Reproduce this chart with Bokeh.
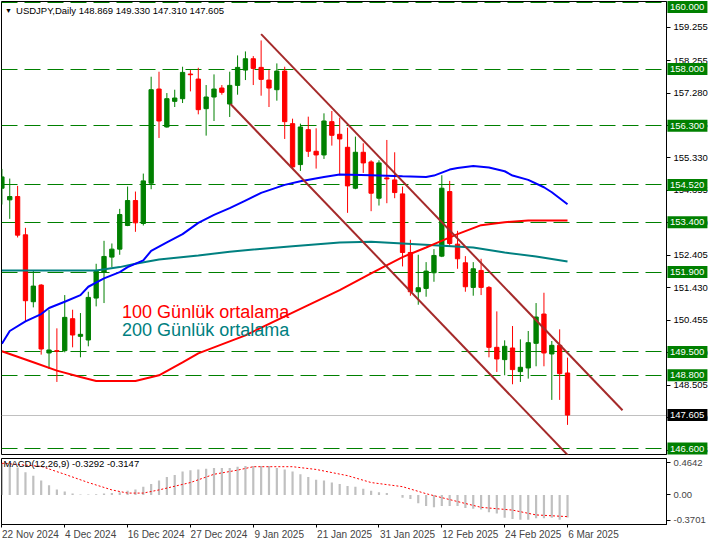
from bokeh.plotting import figure
from bokeh.layouts import column
from bokeh.models import Range1d, FixedTicker, NumeralTickFormatter, Label, LinearAxis
from bokeh.core.properties import value
from bokeh.embed import file_html
from bokeh.resources import INLINE

# ---------------- data ----------------
symbol_title = "USDJPY,Daily  148.869 149.330 147.310 147.605"
macd_title = "MACD(12,26,9) -0.3292 -0.3147"

date_tick_idx = [0, 8, 16, 24, 32, 40, 48, 56, 64, 72]
date_labels = ["22 Nov 2024", "4 Dec 2024", "16 Dec 2024", "27 Dec 2024", "9 Jan 2025",
               "21 Jan 2025", "31 Jan 2025", "12 Feb 2025", "24 Feb 2025", "6 Mar 2025"]

opens = [154.42, 154.07, 154.17, 153.02, 151.01, 151.51, 149.47, 149.54, 149.54, 150.50,
         149.97, 149.86, 151.12, 151.90, 152.35, 152.59, 153.30, 154.05, 153.36, 154.57,
         157.40, 156.26, 157.03, 157.11, 157.85, 157.70, 156.81, 157.16, 157.43, 156.95,
         157.51, 157.97, 158.31, 158.05, 157.67, 157.38, 157.94, 156.36, 155.13, 156.18,
         155.53, 155.42, 156.42, 156.04, 155.65, 154.42, 155.50, 155.21, 154.12, 154.73,
         154.67, 154.25, 152.49, 151.31, 151.41, 151.88, 152.38, 154.32, 152.74, 152.18,
         151.44, 151.95, 151.44, 149.64, 149.27, 149.62, 148.91, 149.02, 149.76, 150.64,
         149.44, 149.70, 148.869]
highs = [155.00, 154.71, 154.49, 153.23, 151.95, 151.54, 150.77, 150.21, 151.21, 150.77,
         150.67, 151.31, 152.15, 152.84, 152.76, 153.80, 154.47, 154.32, 154.86, 157.77,
         157.92, 157.28, 157.38, 158.07, 157.97, 158.04, 157.52, 157.84, 157.52, 157.92,
         158.41, 158.53, 158.39, 158.86, 157.97, 158.17, 158.07, 156.51, 156.36, 156.57,
         156.22, 156.67, 156.74, 156.54, 156.24, 155.97, 155.77, 155.26, 155.26, 155.87,
         155.50, 154.47, 152.87, 152.42, 152.20, 152.59, 154.81, 154.64, 153.14, 152.38,
         152.20, 152.30, 151.48, 150.72, 149.85, 150.28, 149.88, 150.13, 150.97, 151.28,
         149.83, 150.18, 149.330]
lows = [153.93, 153.50, 152.94, 150.42, 150.84, 149.42, 148.99, 148.60, 149.49, 149.64,
        149.34, 149.67, 150.87, 150.97, 152.05, 152.42, 153.28, 153.11, 153.30, 154.39,
        155.93, 156.24, 156.86, 156.98, 157.33, 156.64, 156.00, 156.44, 157.23, 156.56,
        157.23, 157.67, 157.52, 157.20, 156.86, 157.05, 155.90, 155.01, 154.94, 155.36,
        155.01, 155.30, 155.70, 154.81, 153.68, 154.39, 154.88, 153.73, 153.90, 153.97,
        154.12, 152.07, 151.19, 150.92, 151.16, 151.61, 152.35, 152.69, 152.00, 151.31,
        151.19, 151.21, 149.34, 148.90, 148.80, 148.53, 148.60, 148.70, 149.07, 149.07,
        148.06, 148.06, 147.310]
closes = [154.76, 154.17, 153.01, 151.04, 151.48, 149.59, 149.56, 149.52, 150.54, 150.01,
          150.03, 151.14, 151.93, 152.37, 152.59, 153.63, 154.05, 153.38, 154.64, 157.38,
          156.44, 157.11, 157.13, 157.90, 157.83, 156.78, 157.16, 157.40, 157.30, 157.51,
          158.05, 158.31, 158.02, 157.69, 157.43, 157.94, 156.42, 155.06, 156.26, 155.53,
          155.42, 156.44, 156.01, 155.90, 154.49, 155.50, 155.18, 154.27, 155.18, 154.70,
          154.29, 152.49, 151.31, 151.43, 151.93, 152.40, 154.42, 152.76, 152.30, 151.46,
          152.00, 151.44, 149.64, 149.29, 149.67, 148.97, 149.04, 149.78, 150.55, 149.47,
          149.70, 148.85, 147.605]

# moving averages (bar index, price)
ma50_idx = [0, 1, 3, 5, 6, 8, 10, 11, 13, 15, 16, 18, 19, 21, 23, 25, 27, 29, 31, 33, 36, 38,
            41, 43, 47, 51, 54, 55, 57, 58, 60, 62, 64, 65, 67, 69, 70, 72]
ma50_val = [149.75, 150.13, 150.42, 150.64, 150.82, 151.01, 151.21, 151.46, 151.71, 151.90,
            152.05, 152.25, 152.54, 152.79, 153.04, 153.38, 153.62, 153.82, 154.05, 154.28,
            154.52, 154.63, 154.76, 154.83, 154.81, 154.78, 154.76, 154.80, 154.98, 155.03,
            155.09, 155.04, 154.93, 154.80, 154.67, 154.45, 154.30, 153.94]
ma100_idx = [0, 4, 7, 10, 12, 17, 20, 23, 25, 28, 31, 37, 43, 47, 51, 54, 55, 58, 61, 64, 67, 72]
ma100_val = [149.52, 149.19, 148.94, 148.75, 148.63, 148.63, 148.80, 149.19, 149.46, 149.73,
             150.00, 150.68, 151.36, 151.86, 152.35, 152.64, 152.74, 153.04, 153.31, 153.40,
             153.45, 153.45]
ma200_idx = [0, 12, 15, 17, 20, 25, 29, 31, 37, 43, 47, 51, 55, 60, 64, 68, 72]
ma200_val = [151.95, 151.95, 152.05, 152.15, 152.28, 152.40, 152.51, 152.56, 152.68, 152.79,
             152.81, 152.76, 152.71, 152.64, 152.49, 152.37, 152.22]

# trend channel (bar index, price)
chan_up_x = [33.0, 79.0]
chan_up_y = [159.05, 147.75]
chan_lo_x = [29.1, 73.5]
chan_lo_y = [156.95, 146.04]

levels = [160.0, 158.0, 156.3, 154.52, 153.4, 151.9, 149.5, 148.8, 146.6]
level_labels = ["160.000", "158.000", "156.300", "154.520", "153.400", "151.900",
                "149.500", "148.800", "146.600"]
last_price = 147.605
last_label = "147.605"

price_ticks = [159.255, 158.255, 157.28, 156.305, 155.33, 154.355, 153.38, 152.405,
               151.43, 150.455, 149.48, 148.505, 147.53, 146.555]

ma100_text = "100 Günlük ortalama"
ma200_text = "200 Günlük ortalama"

# MACD
macd_hist = [0.46, 0.44, 0.40, 0.33, 0.28, 0.21, 0.14, 0.08, 0.05, 0.02,
             0.005, 0.005, 0.01, 0.02, 0.03, 0.04, 0.06, 0.08, 0.12, 0.16,
             0.21, 0.26, 0.29, 0.34, 0.36, 0.37, 0.38, 0.39, 0.39, 0.39,
             0.41, 0.42, 0.42, 0.42, 0.42, 0.39, 0.37, 0.34, 0.30, 0.26,
             0.22, 0.21, 0.18, 0.16, 0.13, 0.12, 0.09, 0.06, 0.04, 0.03,
             0.00, -0.04, -0.06, -0.12, -0.16, -0.18, -0.16, -0.16, -0.16, -0.19,
             -0.20, -0.21, -0.25, -0.27, -0.33, -0.35, -0.36, -0.36, -0.34, -0.34,
             -0.33, -0.36, -0.3292]
sig_idx = [0, 5, 8, 11, 14, 16, 18, 20, 24, 27, 30, 32, 37, 40, 44, 47, 51, 54, 58, 61,
           65, 68, 72]
sig_val = [0.46, 0.415, 0.30, 0.18, 0.073, 0.027, 0.027, 0.073, 0.18, 0.30, 0.36, 0.41,
           0.41, 0.37, 0.28, 0.18, 0.12, 0.018, -0.096, -0.18, -0.22, -0.29, -0.3147]
macd_ticks = [0.4642, 0.0, -0.3701]
macd_tick_labels = ["0.4642", "0.00", "-0.3701"]

# ---------------- styling ----------------
FONT = "Liberation Sans"
W = 710
RB = 42
H1 = 455
BOXW = 40
GREEN = "#008000"
RED = "#FF0000"
X0, X1 = -0.05, 84.6
Y0, Y1 = 146.42, 160.03
PXB = (W - 1 - RB) / (X1 - X0)          # pixels per bar
PXP = (H1 - 2) / (Y1 - Y0)              # pixels per price unit

idx = list(range(len(opens)))
cols = [GREEN if c >= o else RED for o, c in zip(opens, closes)]
tops = [max(o, c) for o, c in zip(opens, closes)]
bots = [min(o, c) for o, c in zip(opens, closes)]

p = figure(width=W, height=H1, x_range=Range1d(X0, X1), y_range=Range1d(Y0, Y1),
           output_backend="svg", toolbar_location=None, x_axis_location=None,
           y_axis_location="right", min_border_left=1, min_border_right=RB,
           min_border_top=1, min_border_bottom=1)
p.grid.visible = False
p.outline_line_color = "black"
p.background_fill_color = "white"
p.border_fill_color = "white"

ax = p.yaxis[0]
ax.ticker = FixedTicker(ticks=price_ticks)
ax.formatter = NumeralTickFormatter(format="0.000")
ax.major_label_text_font = FONT
ax.major_label_text_font_size = "9.5px"
ax.major_label_text_color = "black"
ax.major_tick_out = 4
ax.major_tick_in = 0
ax.minor_tick_line_color = None
ax.major_label_standoff = 3
ax.axis_line_color = "black"

# levels
p.hspan(y=levels, line_color=GREEN, line_width=1, line_dash="16 7")
p.hspan(y=[last_price], line_color="#C0C0C0", line_width=1)

# candles
p.segment(x0=idx, y0=lows, x1=idx, y1=highs, line_color=cols, line_width=1)
p.vbar(x=idx, top=tops, bottom=bots, width=0.55, fill_color=cols, line_color=cols, line_width=1)

# moving averages
p.line(ma200_idx, ma200_val, line_color="#008080", line_width=2)
p.line(ma100_idx, ma100_val, line_color=RED, line_width=2)
p.line(ma50_idx, ma50_val, line_color="#0000FF", line_width=2)

# channel
p.line(chan_up_x, chan_up_y, line_color="#A52A2A", line_width=2)
p.line(chan_lo_x, chan_lo_y, line_color="#A52A2A", line_width=2)

# texts
p.add_layout(Label(x=15.3, y=150.70, text=ma100_text, text_color=RED, text_font=FONT,
                   text_font_size="18px", text_baseline="middle"))
p.add_layout(Label(x=15.3, y=150.17, text=ma200_text, text_color="#008080", text_font=FONT,
                   text_font_size="18px", text_baseline="middle"))
p.add_layout(Label(x=0.4, y=159.77, text="\u25BC", text_color="black", text_font=FONT,
                   text_font_size="7px", text_baseline="middle"))
p.add_layout(Label(x=1.8, y=159.77, text=symbol_title, text_color="black", text_font=FONT,
                   text_font_size="9.5px", text_baseline="middle"))

# price boxes at the right of the axis (drawn on the overlay level, outside the frame)
box_y = [min(v, Y1 + 1 / PXP - 6.5 / PXP) for v in levels] + [last_price]
box_txt = level_labels + [last_label]
box_col = [GREEN] * len(levels) + ["black"]
box_cx = X1 + (1 + BOXW / 2) / PXB
p.rect(x=[box_cx] * len(box_y), y=box_y, width=BOXW, height=12, width_units="screen",
       height_units="screen", fill_color=box_col, line_color=None, level="overlay")
p.text(x=[X1 + 3.5 / PXB] * len(box_y), y=box_y, text=box_txt, text_color="white",
       text_font=value(FONT), text_font_size="9.5px", text_baseline="middle",
       text_align="left", level="overlay")

# ---------------- MACD panel ----------------
m = figure(width=W, height=87, x_range=p.x_range, y_range=Range1d(-0.429, 0.529),
           output_backend="svg", toolbar_location=None, x_axis_location=None,
           y_axis_location="right", min_border_left=1, min_border_right=RB,
           min_border_top=3, min_border_bottom=0)
m.grid.visible = False
m.outline_line_color = "black"
m.background_fill_color = "white"
m.border_fill_color = "white"

may = m.yaxis[0]
may.ticker = FixedTicker(ticks=macd_ticks)
may.major_label_overrides = {t: s for t, s in zip(macd_ticks, macd_tick_labels)}
may.major_label_text_font = FONT
may.major_label_text_font_size = "9.5px"
may.major_tick_out = 4
may.major_tick_in = 0
may.minor_tick_line_color = None
may.major_label_standoff = 3
may.axis_line_color = "black"

# date ticks (marks only)
tick_axis = LinearAxis(ticker=FixedTicker(ticks=date_tick_idx),
                       major_label_overrides={t: "" for t in date_tick_idx},
                       major_label_text_font_size="1px", major_label_standoff=0,
                       major_tick_out=3, major_tick_in=0, minor_tick_out=0,
                       minor_tick_line_color=None, axis_line_color="black")
m.add_layout(tick_axis, "below")
# date labels, left-aligned at their tick (centre shifted by half the label width)
label_pos = [round(t + len(s) * 2.6 / PXB, 3) for t, s in zip(date_tick_idx, date_labels)]
label_axis = LinearAxis(ticker=FixedTicker(ticks=label_pos),
                        major_label_overrides={t: s for t, s in zip(label_pos, date_labels)},
                        major_label_text_font=FONT, major_label_text_font_size="10px",
                        major_label_standoff=1, major_tick_out=0, major_tick_in=0,
                        minor_tick_out=0, major_tick_line_color=None,
                        minor_tick_line_color=None, axis_line_color=None)
m.add_layout(label_axis, "below")

m.vbar(x=idx, top=macd_hist, bottom=0, width=0.28, fill_color="#C0C0C0", line_color=None)
m.line(sig_idx, sig_val, line_color=RED, line_width=1, line_dash="2 2")
m.add_layout(Label(x=0.2, y=0.46, text=macd_title, text_color="black", text_font=FONT,
                   text_font_size="9.5px", text_baseline="middle"))

layout = column(p, m, spacing=0)
open("out.html", "w").write(file_html(layout, INLINE))
